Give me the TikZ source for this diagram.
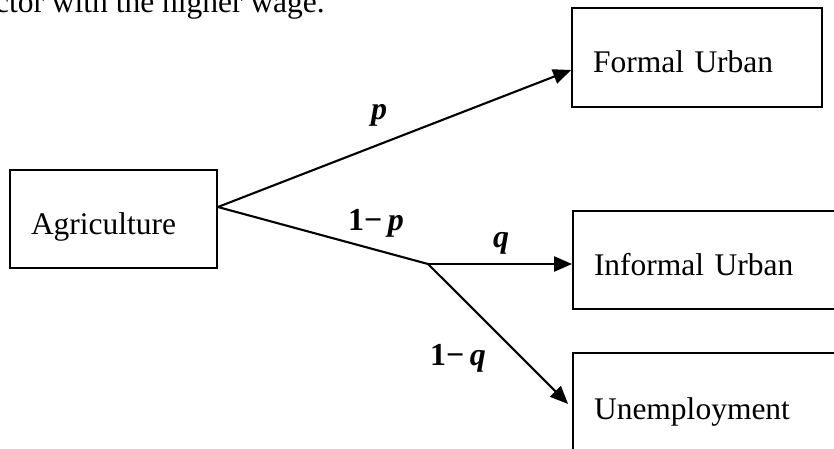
\documentclass[tikz,border=0pt]{standalone}
\usepackage{fontspec}
\setmainfont{Liberation Serif}
\usetikzlibrary{arrows.meta}
\begin{document}
\begin{tikzpicture}[x=1pt,y=-1pt,
  box/.style={draw, line width=1.8pt, inner xsep=21pt, inner ysep=0pt,
    align=left, text height=30pt, text depth=0pt,
    font=\fontsize{31.5}{37}\selectfont},
  link/.style={line width=2.1pt},
  flow/.style={link, -{Triangle[length=18pt,width=15pt]}},
  prob/.style={inner sep=0pt, font=\fontsize{32}{38}\selectfont\bfseries}
]
\useasboundingbox (0,0) rectangle (834,449);
\begin{scope}
\clip (0,0) rectangle (834,449);

% tail of the preceding paragraph
\node[anchor=base east, inner sep=0pt, font=\fontsize{31.5}{37}\selectfont]
  (para) at (325,13) {sector with the higher wage.};

% sectors
\node[box, minimum width=207pt, minimum height=98pt, text width=165pt]
  (agr) at (113.5,219) {Agriculture};
\node[box, minimum width=250pt, minimum height=99pt, text width=208pt]
  (frm) at (697,57.5) {Formal Urban};
\node[box, minimum width=300pt, minimum height=98pt, text width=258pt]
  (inf) at (723,260) {Informal Urban};
\node[box, minimum width=300pt, minimum height=102pt, text width=258pt]
  (une) at (723,404) {Unemployment};

% branching point of the non-formal path
\coordinate (fork) at (428,264);

% migration paths
\draw[flow] ([yshift=12pt]agr.east) -- ([yshift=-12.5pt]frm.west);
\draw[link] ([yshift=12pt]agr.east) -- (fork);
\draw[flow] (fork) -- (fork -| inf.west);
\draw[flow] (fork) -- ([xshift=-4pt]une.west);

% probabilities
\node[prob] (lp)  at (379,115) {\textit{p}};
\node[prob] (l1p) at (376,223) {1−\,\textit{p}};
\node[prob] (lq)  at (501,243) {\textit{q}};
\node[prob] (l1q) at (458,358) {1−\,\textit{q}};
\end{scope}
\end{tikzpicture}
\end{document}
